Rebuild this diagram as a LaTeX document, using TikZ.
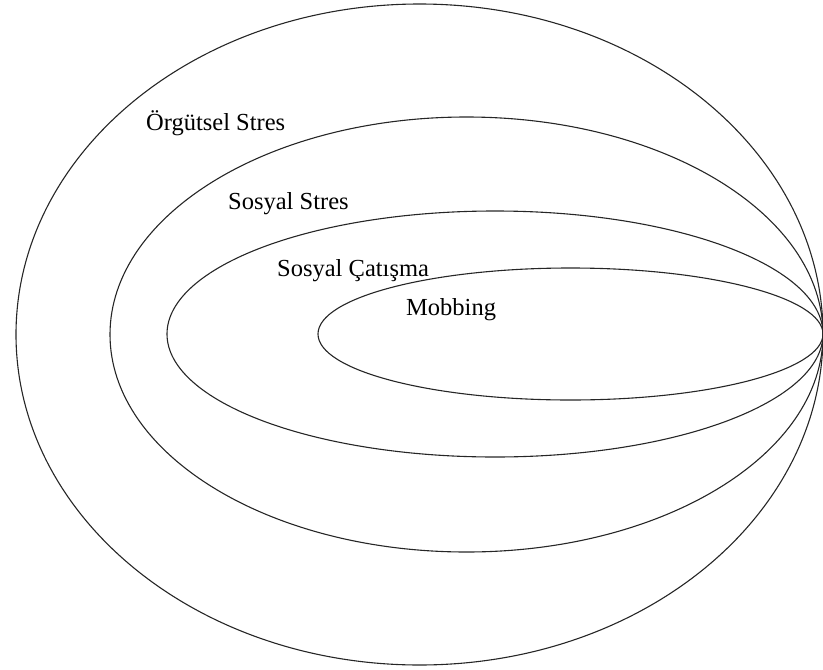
\documentclass[tikz,border=0pt]{standalone}
\usepackage{fontspec}
\setmainfont{Liberation Serif}
\begin{document}
\begin{tikzpicture}[x=1pt,y=-1pt,
  ring/.style={draw=black!85,line width=1.1pt},
  lbl/.style={anchor=base west,inner sep=0pt,font=\fontsize{24.5}{28}\selectfont}]
\useasboundingbox (0,0) rectangle (823,670);
\draw[ring] (419.5,334.5) ellipse [x radius=403.5pt, y radius=330.5pt];
\draw[ring] (466.5,334.5) ellipse [x radius=356.5pt, y radius=217.5pt];
\draw[ring] (495,334) ellipse [x radius=328pt, y radius=123pt];
\draw[ring] (570.5,334) ellipse [x radius=252.5pt, y radius=66pt];
\node[lbl] (org) at (146,130) {Örgütsel Stres};
\node[lbl] (sst) at (228,209) {Sosyal Stres};
\node[lbl] (sca) at (277,276) {Sosyal Çatışma};
\node[lbl] (mob) at (406,315) {Mobbing};
\end{tikzpicture}
\end{document}
